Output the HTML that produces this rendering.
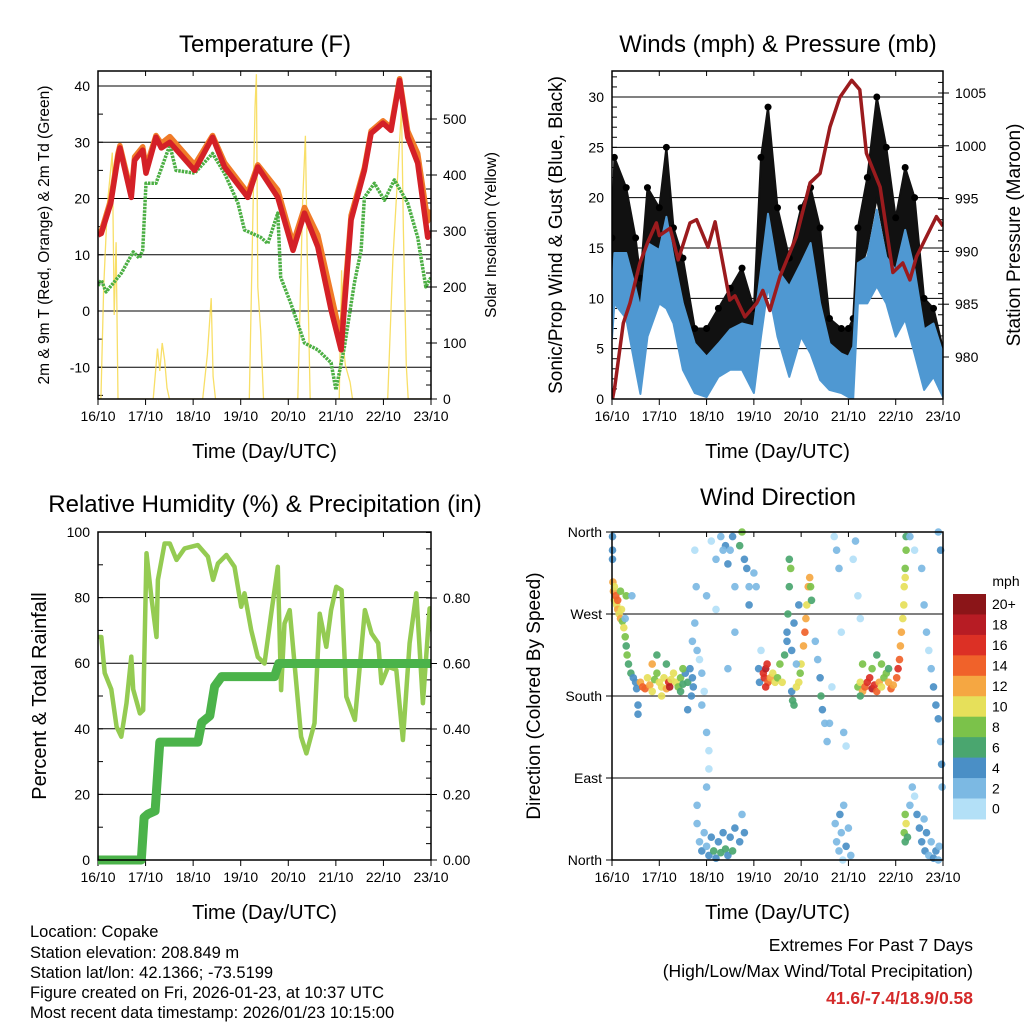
<!DOCTYPE html>
<html><head><meta charset="utf-8"><style>
html,body{margin:0;padding:0;background:#fff;}
svg{display:block;font-family:"Liberation Sans",Arial,sans-serif;}
</style></head><body>
<svg id="fig" width="1024" height="1024" viewBox="0 0 1024 1024" xmlns="http://www.w3.org/2000/svg">
<rect x="0" y="0" width="1024" height="1024" fill="#fff"/>
<g id="g1"></g>
<g id="g2"></g>
<g id="g3"></g>
<g id="g4"></g>
<g font-size="16.5" fill="#000">
<text x="30" y="937">Location: Copake</text>
<text x="30" y="958">Station elevation: 208.849 m</text>
<text x="30" y="978">Station lat/lon: 42.1366; -73.5199</text>
<text x="30" y="998">Figure created on Fri, 2026-01-23, at 10:37 UTC</text>
<text x="30" y="1018">Most recent data timestamp: 2026/01/23 10:15:00</text>
</g>
<g font-size="17.5" text-anchor="end">
<text x="973" y="951">Extremes For Past 7 Days</text>
<text x="973" y="977">(High/Low/Max Wind/Total Precipitation)</text>
<text x="973" y="1004" font-weight="bold" fill="#d42a2a">41.6/-7.4/18.9/0.58</text>
</g>
</svg>
<script>
// ---------- DATA ----------
const dayLabels = ["16/10","17/10","18/10","19/10","20/10","21/10","22/10","23/10"];
const tempTicks = [-10,0,10,20,30,40];
const solarTicks = [0,100,200,300,400,500];
const windTicks = [0,5,10,15,20,25,30];
const presTicks = [980,985,990,995,1000,1005];
const rhTicks = [0,20,40,60,80,100];
const precipTicks = ["0.00","0.20","0.40","0.60","0.80"];
const dirTicks = ["North","East","South","West","North"];
const speedLabels = ["0","2","4","6","8","10","12","14","16","18","20+"];

const tTime = [0,0.07,0.27,0.42,0.46,0.70,0.77,0.94,1.01,1.22,1.33,1.51,2.03,2.41,2.66,3.15,3.36,3.78,4.10,4.34,4.62,4.90,5.11,5.32,5.60,5.74,5.99,6.16,6.34,6.51,6.72,6.93,7.0];
const tRed  = [13.5,13.8,19.2,27.4,29,20.2,26.8,28.6,24.5,30.9,29,30,25,30.9,25.6,20.2,25.6,20.2,10.8,17.4,11.4,0.2,-6.9,16.2,25,31.6,33.4,32.1,41,30.9,26.3,13.1,14];
const tOrange=[14,14.2,19.8,28,29.4,21,27.4,29.2,25.5,31.2,29.8,31,26,31.2,26.4,21,26,21.5,12,18.4,13.5,3,-5,17,25.5,32,33.8,32.6,41.3,32,28,16,18];
const dTime = [0,0.07,0.17,0.49,0.74,0.87,0.94,1.01,1.22,1.51,1.64,2.03,2.41,2.66,2.94,3.08,3.42,3.57,3.78,3.84,4.05,4.34,4.62,4.90,5.0,5.18,5.39,5.53,5.60,5.81,6.02,6.23,6.51,6.72,6.89,7.0];
const dGreen= [4.5,5.5,3.4,6.7,10.5,9.4,10.8,22.7,22.7,29.5,25,24.5,28,24.5,19.2,14.4,13.1,12,17.4,6,1.4,-5.7,-6.9,-9.2,-14,-6.4,5,10.8,20.2,22.7,19.7,23.3,19.2,13.1,4.3,6];
const sTime = [0,0.06,0.12,0.2,0.3,0.34,0.38,0.42,1.16,1.25,1.3,1.35,1.4,1.45,1.5,2.2,2.3,2.38,2.42,2.47,3.18,3.25,3.3,3.33,3.36,3.42,3.48,4.2,4.3,4.36,4.4,4.46,5.07,5.12,5.15,5.2,5.3,5.35,6.09,6.2,6.3,6.38,6.42,6.48,6.52,7];
const sSolar= [0,0,200,350,440,150,280,0,0,90,50,100,70,20,0,0,80,180,40,0,0,300,520,580,200,120,0,0,350,470,250,0,0,230,100,60,30,0,0,250,400,520,300,60,0,0];

const pTime = [0,0.06,0.24,0.38,0.59,0.76,0.94,1.0,1.23,1.40,1.65,1.79,2.03,2.18,2.49,2.6,2.81,3.06,3.19,3.34,3.55,3.90,4.19,4.40,4.61,4.82,5.07,5.24,5.38,5.67,5.94,6.15,6.30,6.44,6.86,7.0];
const pMb   = [975.8,977.2,983.2,985.1,988.9,990.9,992.7,991.5,992.2,989.2,992.7,993,990.4,992.8,985.4,985.8,983.8,985.1,986.3,984.4,987.6,991.4,996.5,997.4,1001.8,1004.6,1006.2,1005.3,999.3,996.1,988,988.9,987.3,989.5,993.3,992.4];
const wTime = [0,0.05,0.3,0.5,0.6,0.75,1.0,1.15,1.3,1.5,1.75,2.0,2.25,2.5,2.75,3.0,3.15,3.3,3.5,3.75,4.0,4.2,4.4,4.6,4.85,5.0,5.1,5.2,5.4,5.6,5.8,6.0,6.2,6.4,6.6,6.8,7.0];
const windHi= [10,14.5,14.5,11,9,15.5,14.8,18.1,14.1,9.5,5.5,4.2,5.5,6.9,7.5,7.2,12.8,18.4,12.8,11.2,13.5,15.5,9.5,5.5,4.5,4.2,5.2,13.5,14.1,18.8,14.1,12.8,16.8,12.8,6.9,7.5,4.5];
const windLo= [6,9.5,8,3,0.5,6.2,9.5,9,7.5,2.9,0.6,0.2,2.2,2.9,2.9,0.6,6.2,11.2,6.2,2.2,6.2,4.5,1.9,0.9,0.6,0.2,0,9.5,9.5,11.2,9.5,6.2,7.9,4.5,0.9,2.2,0.2];
const gustHi= [16,24,21,16,12,21,19,25,17,14,7,7,9,11,13,9,24,29,19,14,19,21,17,8,7,7,8,17,22,30,25,18,23,20,10,9,5];
const gustLo= [10,12,12,8,3,14,14,15,10,6,3,2,4,6,7,4,14,18,12,8,10,13,8,3,3,2,3,12,15,20,15,10,14,11,4,5,1];

const rhTime = [0,0.07,0.14,0.28,0.39,0.49,0.6,0.7,0.74,0.88,0.95,1.02,1.12,1.23,1.26,1.4,1.51,1.65,1.82,2.1,2.31,2.42,2.52,2.7,2.87,3.01,3.08,3.22,3.36,3.5,3.64,3.78,3.85,3.92,4.03,4.13,4.27,4.38,4.55,4.66,4.8,4.9,5.01,5.12,5.22,5.4,5.61,5.75,5.89,5.96,6.1,6.27,6.41,6.55,6.69,6.83,6.97,7.0];
const rhVal  = [68,68,57,52,40.6,37.6,47.8,62,52,44.7,45.7,93.5,80.3,68,85.4,96.5,96.5,91.5,95,96,92.5,85.4,90.4,93,89.4,77.2,81.3,70.1,61.9,59.9,75.1,89.4,51.8,72.1,76.2,59.9,37.6,32.5,41.7,75.1,65,76.2,83.3,82.3,49.8,42.7,76.2,69.1,66.1,53.9,58.9,58,36.6,66.1,81.3,47.8,76.7,76];
const prTime = [0,0.91,0.97,1.05,1.2,1.3,2.1,2.18,2.35,2.45,2.6,3.71,3.8,7];
const prVal  = [0,0,0.13,0.14,0.15,0.36,0.36,0.42,0.44,0.53,0.56,0.56,0.6,0.6];

const dirT = [0.01,0.01,0.01,0.02,0.03,0.05,0.08,0.1,0.12,0.15,0.18,0.2,0.22,0.25,0.28,0.3,0.32,0.35,0.4,0.45,0.05,0.12,0.18,0.3,0.42,0.28,
0.5,0.52,0.55,0.55,0.6,0.65,0.7,0.75,0.8,0.85,0.9,0.95,1.0,1.05,1.1,1.15,1.2,1.22,1.25,1.3,1.35,1.4,1.45,1.5,1.55,1.6,0.95,1.15,1.5,0.85,1.05,1.45,
1.65,1.7,1.72,1.68,1.6,1.7,1.75,1.78,1.75,1.8,1.85,1.9,1.95,1.9,2.0,2.05,2.05,2.0,1.8,1.8,1.85,1.9,1.95,2.0,2.05,2.1,2.15,2.2,2.25,2.3,2.35,2.4,2.45,2.5,2.55,2.6,2.7,2.75,2.8,2.0,2.1,2.2,2.3,2.4,2.45,2.5,2.55,2.6,2.7,2.75,2.8,2.85,2.9,2.9,2.6,2.2,2.45,2.35,
3.0,3.05,3.1,3.12,3.15,3.2,3.22,3.25,3.28,3.3,3.25,3.35,3.4,3.45,3.5,3.55,3.6,3.65,3.7,3.72,3.75,3.78,3.75,3.7,3.8,3.82,3.85,3.9,3.95,3.98,4.0,4.05,4.08,4.1,4.12,4.15,4.18,4.2,4.22,3.8,3.85,3.9,3.95,
4.35,4.4,4.42,4.45,4.5,4.55,4.3,4.6,4.65,4.7,4.75,4.8,4.85,4.9,4.95,4.72,4.75,4.8,4.82,4.85,4.9,4.95,5.0,5.05,4.88,5.1,5.15,5.2,5.25,
5.2,5.25,5.3,5.35,5.4,5.45,5.5,5.55,5.6,5.65,5.7,5.75,5.8,5.85,5.9,5.95,5.5,5.6,5.3,5.7,5.85,5.25,
6.02,6.05,6.08,6.1,6.12,6.15,6.17,6.18,6.2,6.22,6.22,6.2,6.2,6.22,6.18,6.25,6.2,
6.3,6.35,6.4,6.45,6.5,6.55,6.6,6.62,6.65,6.7,6.75,6.8,6.85,6.9,6.92,6.3,6.4,6.55,6.6,6.65,6.7,6.75,6.8,6.85,6.9,6.95,6.97,6.98,6.95,6.9];
const dirDeg = [355,340,330,305,295,285,290,280,275,270,265,275,262,255,245,235,225,215,205,200,300,285,295,290,290,265,
195,188,170,160,195,190,188,200,192,185,198,205,195,190,200,188,195,190,198,205,195,190,200,193,205,195,225,215,210,215,180,185,
210,200,190,180,165,240,260,300,340,230,220,205,185,170,140,120,100,80,60,40,20,10,30,15,5,25,10,2,20,8,30,12,5,25,10,35,20,50,30,290,350,330,355,345,325,340,355,300,345,360,330,320,300,280,250,275,210,340,
315,300,210,195,230,205,200,210,215,195,190,200,205,195,200,215,195,225,250,270,300,320,330,240,185,175,170,190,195,205,215,235,250,265,280,300,310,300,285,230,260,215,280,
220,200,180,165,150,130,240,150,190,355,340,320,250,140,125,40,20,10,50,30,60,15,35,5,0,330,350,290,265,
190,195,185,190,195,200,188,192,185,195,190,200,205,195,188,192,210,225,215,215,210,180,
200,210,220,235,250,265,280,300,320,340,355,310,50,40,30,25,20,
60,80,70,50,35,20,45,10,30,5,20,2,10,0,15,355,340,320,280,250,230,210,190,170,155,130,105,80,340,360];
const dirSpd = [4,4,5,12,13,11,14,10,12,11,13,10,9,11,8,7,8,7,6,5,11,15,8,9,2,3,
5,4,5,4,13,15,14,10,12,11,9,8,10,11,10,12,17,18,10,11,10,9,8,7,5,6,7,7,8,12,10,6,
4,5,5,4,4,3,3,2,1,2,1,3,1,2,2,1,1,3,2,3,2,4,3,3,4,5,6,4,5,6,5,7,5,4,6,5,4,3,4,2,1,2,3,4,5,3,4,2,7,8,5,4,3,4,2,1,2,2,
2,3,4,5,1,16,17,18,16,15,17,12,11,10,9,8,10,7,5,6,7,8,6,4,5,6,7,10,11,9,11,13,14,12,10,12,13,9,6,5,4,3,4,
3,5,6,4,3,2,2,2,1,1,2,2,1,2,1,3,2,3,4,3,2,5,3,2,1,1,2,1,1,
8,11,12,15,16,17,18,16,14,12,10,9,8,12,14,13,8,7,8,9,6,7,
15,16,15,13,12,10,11,10,9,8,6,10,8,10,9,6,7,
3,2,1,4,5,4,3,5,4,3,2,5,4,3,2,2,1,3,2,3,1,2,4,5,4,2,4,3,4,2];

const speedColors = ["#b3e0f7","#7cb9e3","#4a8fc6","#4aa66f","#7bc24a","#e6e05a","#f5a742","#f0622a","#dc3025","#b71c24","#8b1518"];

// ---------- HELPERS ----------
const NS = "http://www.w3.org/2000/svg";
function mk(tag, attrs, parent, txt){
  const e = document.createElementNS(NS, tag);
  for (const k in attrs) e.setAttribute(k, attrs[k]);
  if (txt !== undefined) e.textContent = txt;
  parent.appendChild(e);
  return e;
}
function scale(d0,d1,r0,r1){ return v => r0 + (v-d0)/(d1-d0)*(r1-r0); }
function pathOf(xs, ys, fx, fy){
  let d=""; for(let i=0;i<xs.length;i++) d += (i?"L":"M")+fx(xs[i]).toFixed(1)+","+fy(ys[i]).toFixed(1);
  return d;
}
function frame(g, L, T, R, B, xLabel){
  const X = scale(0,7,L,R);
  for (let i=0;i<8;i++){
    const x = X(i);
    const tk = mk("line",{x1:x,y1:B,x2:x,y2:B+6,stroke:"#000","stroke-width":1},g);
    
    
    mk("line",{x1:x,y1:T,x2:x,y2:T+5,stroke:"#000","stroke-width":1},g);
    const lb = mk("text",{x:x,y:B+22,"font-size":14,"text-anchor":"middle"},g,dayLabels[i]);
    
    
  }
  const xt = mk("text",{x:(L+R)/2,y:B+59,"font-size":20,"text-anchor":"middle"},g,xLabel);
  
  
  return X;
}
function box(g,L,T,R,B){
  const r = mk("rect",{x:L,y:T,width:R-L,height:B-T,fill:"none",stroke:"#000","stroke-width":1.5},g);
  
  
}
function minorTicks(g, L, R, fy, lo, hi, step, side){
  for (let v=lo; v<=hi+1e-9; v+=step){
    const y = fy(v);
    if (side==="L") mk("line",{x1:L,y1:y,x2:L+5,y2:y,stroke:"#000","stroke-width":1},g);
    else mk("line",{x1:R,y1:y,x2:R-5,y2:y,stroke:"#000","stroke-width":1},g);
  }
}
function vtitle(g,x,y,size,txt,name){
  const t = mk("text",{x:0,y:0,"font-size":size,"text-anchor":"middle",transform:`translate(${x},${y}) rotate(-90)`},g,txt);
  
  
}
function title(g,x,y,txt){
  const t = mk("text",{x:x,y:y,"font-size":24,"text-anchor":"middle"},g,txt);
  
  
}

// ---------- PANEL 1: Temperature ----------
(function(){
  const g = document.getElementById("g1");
  const L=98,T=71,R=431,B=399;
  title(g,265,52,"Temperature (F)");
  const X = frame(g,L,T,R,B,"Time (Day/UTC)");
  const Y = scale(0,40,311,86);
  const YS = scale(0,500,399,119);
  tempTicks.forEach(v=>{
    const gl = mk("line",{x1:L,y1:Y(v),x2:R,y2:Y(v),stroke:"#000","stroke-width":1},g);
    
    
    const t = mk("text",{x:L-8,y:Y(v)+5,"font-size":14,"text-anchor":"end"},g,String(v));
    
    
  });
  minorTicks(g,L,R,Y,-15,40,5,"L");
  solarTicks.forEach(v=>{
    mk("line",{x1:R,y1:YS(v),x2:R+6,y2:YS(v),stroke:"#000","stroke-width":1},g);
    const t = mk("text",{x:R+12,y:YS(v)+5,"font-size":14},g,String(v));
    
    
  });
  minorTicks(g,L,R,YS,0,575,25,"R");
  vtitle(g,49,235,15.5,"2m & 9m T (Red, Orange) & 2m Td (Green)","y-axis-title");
  vtitle(g,496,235,15.5,"Solar Insolation (Yellow)","y2-axis-title");
  const cp = mk("clipPath",{id:"c1"},g); mk("rect",{x:L,y:T,width:R-L,height:B-T},cp);
  const pg = mk("g",{"clip-path":"url(#c1)"},g);
  const s = mk("path",{d:pathOf(sTime,sSolar,X,YS),fill:"none",stroke:"#f7d94c","stroke-width":1.3,opacity:0.85},pg);
  
  
  const dg = mk("path",{d:pathOf(dTime,dGreen,X,Y),fill:"none",stroke:"#4caf44","stroke-width":3.5,"stroke-dasharray":"2.5 1","stroke-linejoin":"round"},pg);
  
  
  const o = mk("path",{d:pathOf(tTime,tOrange,X,Y),fill:"none",stroke:"#f07b28","stroke-width":5.5,"stroke-linejoin":"round"},pg);
  
  
  const r = mk("path",{d:pathOf(tTime,tRed,X,Y),fill:"none",stroke:"#d42027","stroke-width":5.5,"stroke-linejoin":"round"},pg);
  
  
  box(g,L,T,R,B);
})();

// ---------- PANEL 2: Winds & Pressure ----------
(function(){
  const g = document.getElementById("g2");
  const L=612,T=71,R=943,B=399;
  title(g,778,52,"Winds (mph) & Pressure (mb)");
  const X = frame(g,L,T,R,B,"Time (Day/UTC)");
  const Y = scale(0,30,399,97);
  const YP = scale(980,1005,357,93);
  windTicks.forEach(v=>{
    if (v>0){
      const gl = mk("line",{x1:L,y1:Y(v),x2:R,y2:Y(v),stroke:"#000","stroke-width":1},g);
      
      
    }
    const t = mk("text",{x:L-8,y:Y(v)+5,"font-size":14,"text-anchor":"end"},g,String(v));
    
    
  });
  minorTicks(g,L,R,Y,0,32,1,"L");
  presTicks.forEach(v=>{
    mk("line",{x1:R,y1:YP(v),x2:R+6,y2:YP(v),stroke:"#000","stroke-width":1},g);
    const t = mk("text",{x:R+12,y:YP(v)+5,"font-size":14},g,String(v));
    
    
  });
  minorTicks(g,L,R,YP,977,1006,1,"R");
  vtitle(g,562,235,19,"Sonic/Prop Wind & Gust (Blue, Black)","y-axis-title");
  vtitle(g,1020,235,19,"Station Pressure (Maroon)","y2-axis-title");
  const cp = mk("clipPath",{id:"c2"},g); mk("rect",{x:L,y:T,width:R-L,height:B-T},cp);
  const pg = mk("g",{"clip-path":"url(#c2)"},g);
  function band(hi,lo,color,name){
    let d = pathOf(wTime,hi,X,Y);
    for (let i=wTime.length-1;i>=0;i--) d += "L"+X(wTime[i]).toFixed(1)+","+Y(lo[i]).toFixed(1);
    const p = mk("path",{d:d+"Z",fill:color,stroke:color,"stroke-width":2,"stroke-linejoin":"round"},pg);
    
    
  }
  band(gustHi,gustLo,"#111","gust-band");
  for (let i=0;i<wTime.length;i++){
    const c = mk("circle",{cx:X(wTime[i]),cy:Y(gustHi[i]),r:3.5,fill:"#000"},pg);
    
    
  }
  band(windHi,windLo,"#4f98d2","wind-band");
  const p = mk("path",{d:pathOf(pTime,pMb,X,YP),fill:"none",stroke:"#9b1b1e","stroke-width":3.5,"stroke-linejoin":"round"},pg);
  
  
  box(g,L,T,R,B);
})();

// ---------- PANEL 3: RH & Precip ----------
(function(){
  const g = document.getElementById("g3");
  const L=98,T=532,R=431,B=860;
  title(g,265,512,"Relative Humidity (%) & Precipitation (in)");
  const X = frame(g,L,T,R,B,"Time (Day/UTC)");
  const Y = scale(0,100,860,532);
  const YP = scale(0,0.8,860,598);
  rhTicks.forEach(v=>{
    if (v>0 && v<100){
      const gl = mk("line",{x1:L,y1:Y(v),x2:R,y2:Y(v),stroke:"#000","stroke-width":1},g);
      
      
    }
    const t = mk("text",{x:L-8,y:Y(v)+5,"font-size":14,"text-anchor":"end"},g,String(v));
    
    
  });
  minorTicks(g,L,R,Y,0,100,10,"L");
  precipTicks.forEach(s=>{
    const v = parseFloat(s);
    mk("line",{x1:R,y1:YP(v),x2:R+6,y2:YP(v),stroke:"#000","stroke-width":1},g);
    const t = mk("text",{x:R+12,y:YP(v)+5,"font-size":14},g,s);
    
    
  });
  minorTicks(g,L,R,YP,0,1,0.05,"R");
  vtitle(g,46,696,20,"Percent & Total Rainfall","y-axis-title");
  const cp = mk("clipPath",{id:"c3"},g); mk("rect",{x:L,y:T,width:R-L,height:B-T+6},cp);
  const pg = mk("g",{"clip-path":"url(#c3)"},g);
  const rh = mk("path",{d:pathOf(rhTime,rhVal,X,Y),fill:"none",stroke:"#94cb52","stroke-width":4.5,"stroke-linejoin":"round"},pg);
  
  
  const pr = mk("path",{d:pathOf(prTime,prVal,X,YP),fill:"none",stroke:"#4bb34a","stroke-width":9,"stroke-linejoin":"round","stroke-linecap":"round"},pg);
  
  
  box(g,L,T,R,B);
})();

// ---------- PANEL 4: Wind Direction ----------
(function(){
  const g = document.getElementById("g4");
  const L=612,T=532,R=943,B=860;
  title(g,778,505,"Wind Direction");
  const X = frame(g,L,T,R,B,"Time (Day/UTC)");
  const Y = scale(0,360,860,532);
  dirTicks.forEach((s,i)=>{
    const v = i*90;
    if (v>0 && v<360){
      const gl = mk("line",{x1:L,y1:Y(v),x2:R,y2:Y(v),stroke:"#000","stroke-width":1},g);
      
      
    }
    mk("line",{x1:L-6,y1:Y(v),x2:L,y2:Y(v),stroke:"#000","stroke-width":1},g);
    const t = mk("text",{x:L-10,y:Y(v)+5,"font-size":14,"text-anchor":"end"},g,s);
    
    
  });
  vtitle(g,540,696,19,"Direction (Colored By Speed)","y-axis-title");
  const cp = mk("clipPath",{id:"c4"},g); mk("rect",{x:L-4,y:T-4,width:R-L+8,height:B-T+8},cp);
  const pg = mk("g",{"clip-path":"url(#c4)"},g);
  for (let i=0;i<dirT.length;i++){
    const ci = Math.min(10, Math.floor(dirSpd[i]/2));
    const c = mk("circle",{cx:X(dirT[i]).toFixed(1),cy:Y(dirDeg[i]).toFixed(1),r:3.8,fill:speedColors[ci],opacity:0.92},pg);
    
    
  }
  box(g,L,T,R,B);
  const cb = mk("g",{},g);
  
  
  const ml = mk("text",{x:1006,y:586,"font-size":14,"text-anchor":"middle"},cb,"mph");
  
  
  const top=594, h=20.45;
  for (let k=0;k<11;k++){
    const idx = 10-k;
    const r = mk("rect",{x:953,y:top+k*h,width:33,height:h+0.5,fill:speedColors[idx]},cb);
    
    
    const t = mk("text",{x:992,y:top+k*h+h/2+5,"font-size":14},cb,speedLabels[idx]);
    
    
  }
})();
</script>
</body></html>
